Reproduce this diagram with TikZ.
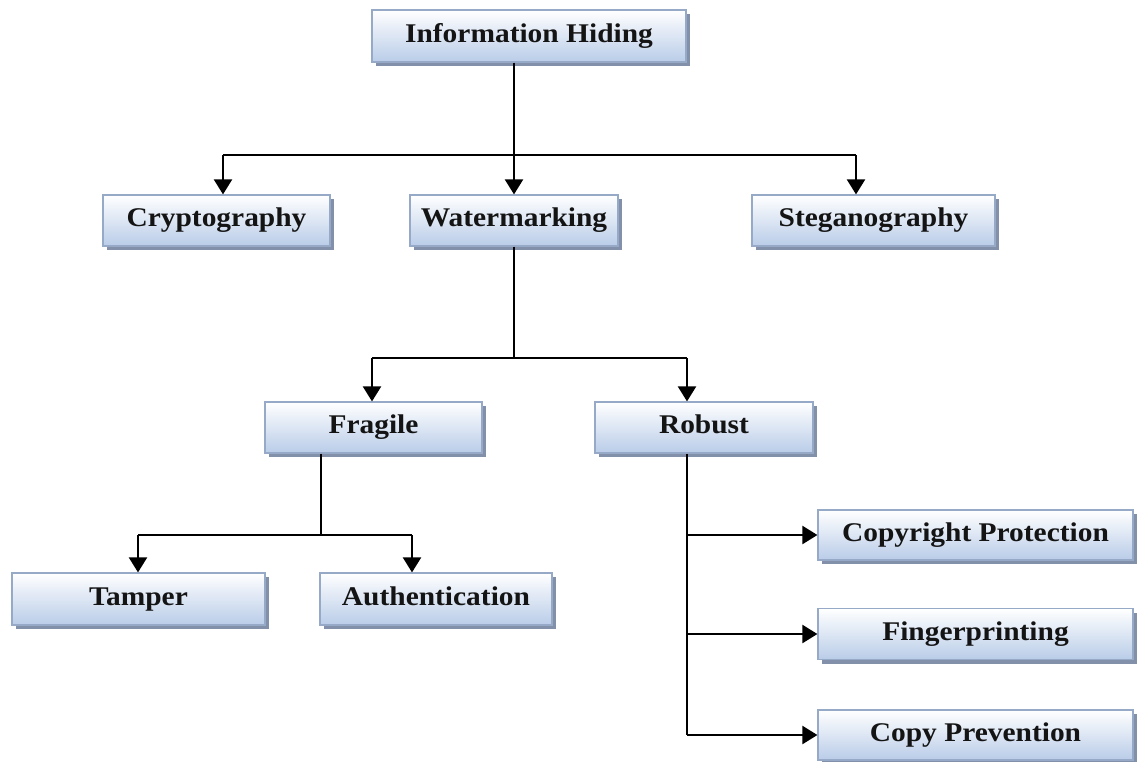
\documentclass[tikz,border=0pt]{standalone}
\usepackage{fontspec}
\setmainfont{Liberation Serif}[FakeStretch=1.09]
\usetikzlibrary{shadows,arrows.meta}
\definecolor{boxline}{RGB}{150,170,200}
\definecolor{boxbot}{RGB}{185,204,232}
\definecolor{shadowc}{RGB}{130,144,170}
\tikzset{
  hbox/.style={rectangle, draw=boxline, line width=1.2pt,
    top color=white, bottom color=boxbot,
    font=\fontsize{27}{30}\selectfont\bfseries, text=black!92,
    text height=19pt, text depth=7pt,
    drop shadow={shadow xshift=4pt, shadow yshift=-4pt, fill=shadowc, opacity=1},
    inner sep=0pt},
  conn/.style={line width=1.3pt, black},
  arr/.style={line width=2.2pt, black, -{Triangle[width=18pt,length=15pt]}},
}
\begin{document}
\begin{tikzpicture}[x=1pt,y=-1pt]
\useasboundingbox (0,0) rectangle (1137,761);
\fill[white] (0,0) rectangle (1137,761);
% boxes
\node[hbox, minimum width=314pt, minimum height=52pt] (ih) at (529,36) {Information Hiding};
\node[hbox, minimum width=227pt, minimum height=51pt] (crypto) at (216.5,220.5) {Cryptography};
\node[hbox, minimum width=208pt, minimum height=51pt] (water) at (514,220.5) {Watermarking};
\node[hbox, minimum width=243pt, minimum height=51pt] (steg) at (873.5,220.5) {Steganography};
\node[hbox, minimum width=217pt, minimum height=51pt] (fragile) at (373.5,427.5) {Fragile};
\node[hbox, minimum width=218pt, minimum height=51pt] (robust) at (704,427.5) {Robust};
\node[hbox, minimum width=253pt, minimum height=52pt] (tamper) at (138.5,599) {Tamper};
\node[hbox, minimum width=232pt, minimum height=52pt] (auth) at (436,599) {Authentication};
\node[hbox, minimum width=315pt, minimum height=50pt] (copyr) at (975.5,535) {Copyright Protection};
\node[hbox, minimum width=315pt, minimum height=51pt] (finger) at (975.5,634) {Fingerprinting};
\node[hbox, minimum width=315pt, minimum height=50pt] (copyp) at (975.5,735) {Copy Prevention};
% junctions
\coordinate (j1) at (514,155);
\coordinate (c1) at (223,155);
\coordinate (c3) at (856,155);
\coordinate (j2) at (514,358);
\coordinate (f1) at (372,358);
\coordinate (r1) at (687,358);
\coordinate (j3) at (321,535);
\coordinate (t1) at (138,535);
\coordinate (a1) at (412,535);
\coordinate (rb) at (687,735);
% connectors
\draw[conn] (ih.south -| j1) -- (j1);
\draw[conn] (c1) -- (c3);
\draw[arr] (c1) -- (c1 |- crypto.north);
\draw[arr] (j1) -- (water.north);
\draw[arr] (c3) -- (c3 |- steg.north);
\draw[conn] (water.south) -- (j2);
\draw[conn] (f1) -- (r1);
\draw[arr] (f1) -- (f1 |- fragile.north);
\draw[arr] (r1) -- (r1 |- robust.north);
\draw[conn] (fragile.south -| j3) -- (j3);
\draw[conn] (t1) -- (a1);
\draw[arr] (t1) -- (t1 |- tamper.north);
\draw[arr] (a1) -- (a1 |- auth.north);
\draw[conn] (robust.south -| rb) -- (rb);
\draw[arr] (copyr.west -| rb) -- (copyr.west);
\draw[arr] (finger.west -| rb) -- (finger.west);
\draw[arr] (copyp.west -| rb) -- (copyp.west);
\end{tikzpicture}
\end{document}
